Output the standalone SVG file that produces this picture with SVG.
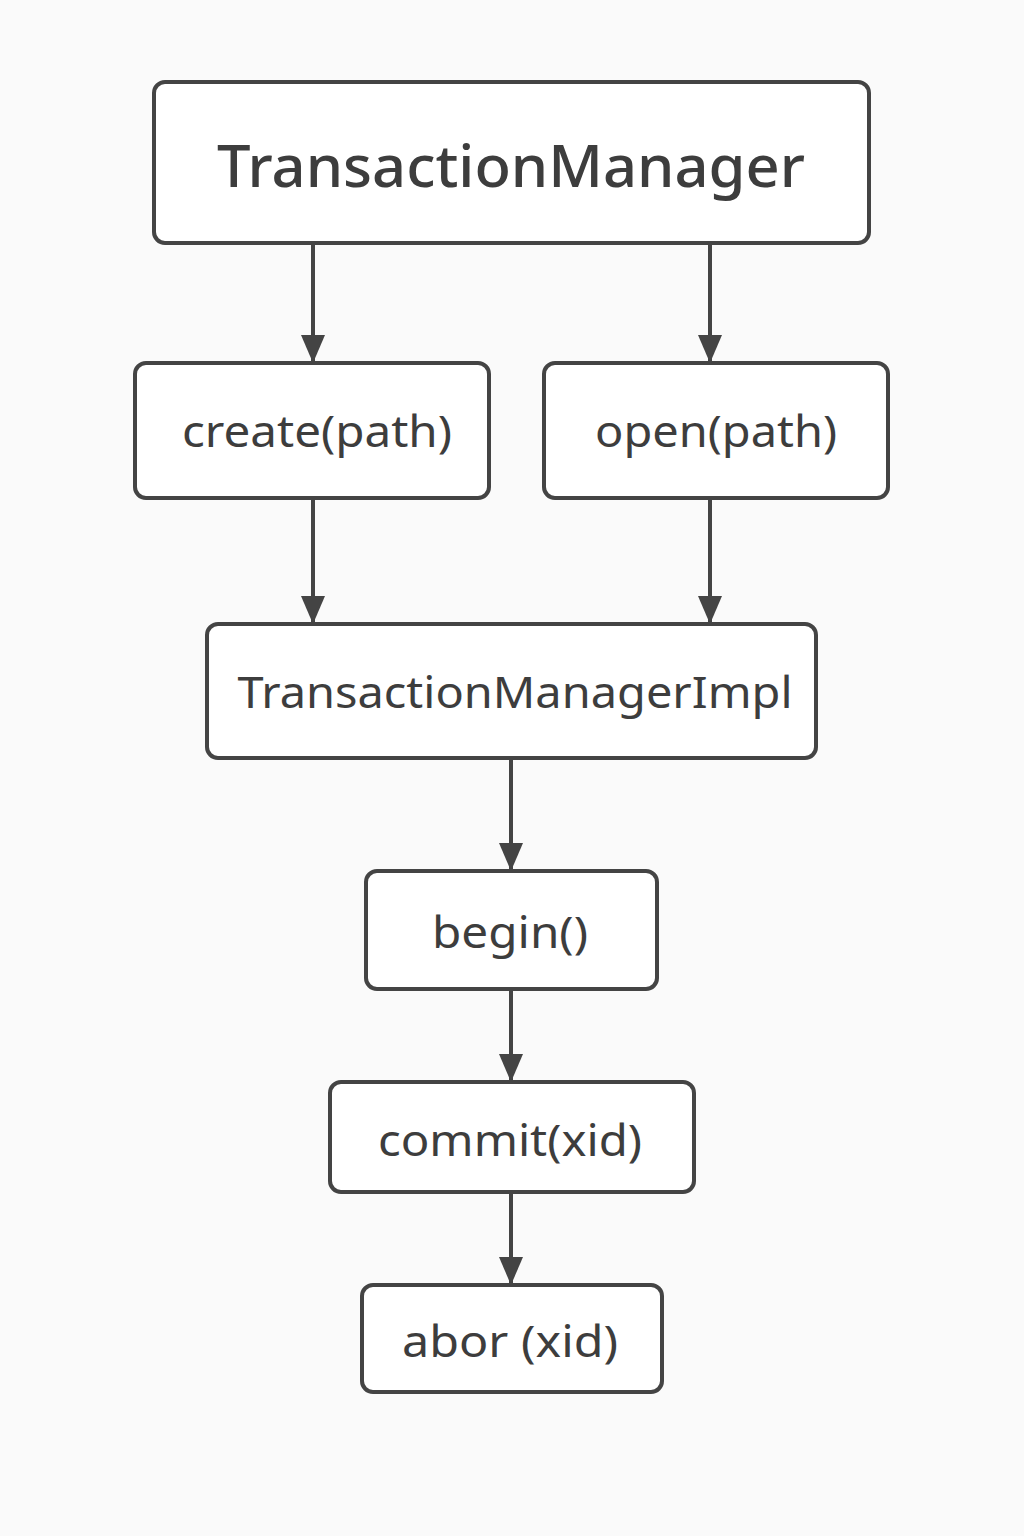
<svg xmlns="http://www.w3.org/2000/svg" width="1024" height="1536" viewBox="0 0 1024 1536">
<defs>
<style>
.box{fill:#ffffff;stroke:#444444;stroke-width:4}
.lbl{font-family:"Noto Sans","Open Sans","DejaVu Sans",sans-serif;fill:#3d3d3d;text-anchor:middle}
.edge{stroke:#444444;stroke-width:4;fill:none}
</style>
<marker id="ah" viewBox="0 0 28 24" refX="27" refY="12" markerWidth="28" markerHeight="24" markerUnits="userSpaceOnUse" orient="auto">
<path d="M0,0 L28,12 L0,24 Z" fill="#444444"/>
</marker>
</defs>
<rect width="1024" height="1536" fill="#fafafa"/>
<g id="connectors">
<line class="edge" x1="313" y1="245" x2="313" y2="362" marker-end="url(#ah)"/>
<line class="edge" x1="710" y1="245" x2="710" y2="362" marker-end="url(#ah)"/>
<line class="edge" x1="313" y1="500" x2="313" y2="623" marker-end="url(#ah)"/>
<line class="edge" x1="710" y1="500" x2="710" y2="623" marker-end="url(#ah)"/>
<line class="edge" x1="511" y1="760" x2="511" y2="870" marker-end="url(#ah)"/>
<line class="edge" x1="511" y1="991" x2="511" y2="1081" marker-end="url(#ah)"/>
<line class="edge" x1="511" y1="1194" x2="511" y2="1284" marker-end="url(#ah)"/>
</g>
<g id="n-tm">
<rect class="box" x="154" y="82" width="715" height="161" rx="11"/>
<text class="lbl" x="511" y="187" font-size="58" font-weight="500" textLength="588" lengthAdjust="spacingAndGlyphs">TransactionManager</text>
</g>
<g id="n-create">
<rect class="box" x="135" y="363" width="354" height="135" rx="11"/>
<text class="lbl" x="317" y="447" font-size="44" textLength="270" lengthAdjust="spacingAndGlyphs">create(path)</text>
</g>
<g id="n-open">
<rect class="box" x="544" y="363" width="344" height="135" rx="11"/>
<text class="lbl" x="716" y="447" font-size="44" textLength="242" lengthAdjust="spacingAndGlyphs">open(path)</text>
</g>
<g id="n-impl">
<rect class="box" x="207" y="624" width="609" height="134" rx="11"/>
<text class="lbl" x="515" y="708" font-size="44" textLength="555" lengthAdjust="spacingAndGlyphs">TransactionManagerImpl</text>
</g>
<g id="n-begin">
<rect class="box" x="366" y="871" width="291" height="118" rx="11"/>
<text class="lbl" x="510" y="948" font-size="44" textLength="156" lengthAdjust="spacingAndGlyphs">begin()</text>
</g>
<g id="n-commit">
<rect class="box" x="330" y="1082" width="364" height="110" rx="11"/>
<text class="lbl" x="510" y="1156" font-size="44" textLength="264" lengthAdjust="spacingAndGlyphs">commit(xid)</text>
</g>
<g id="n-abort">
<rect class="box" x="362" y="1285" width="300" height="107" rx="11"/>
<text class="lbl" x="510" y="1357" font-size="44" textLength="216" lengthAdjust="spacingAndGlyphs">abor (xid)</text>
</g>
</svg>
